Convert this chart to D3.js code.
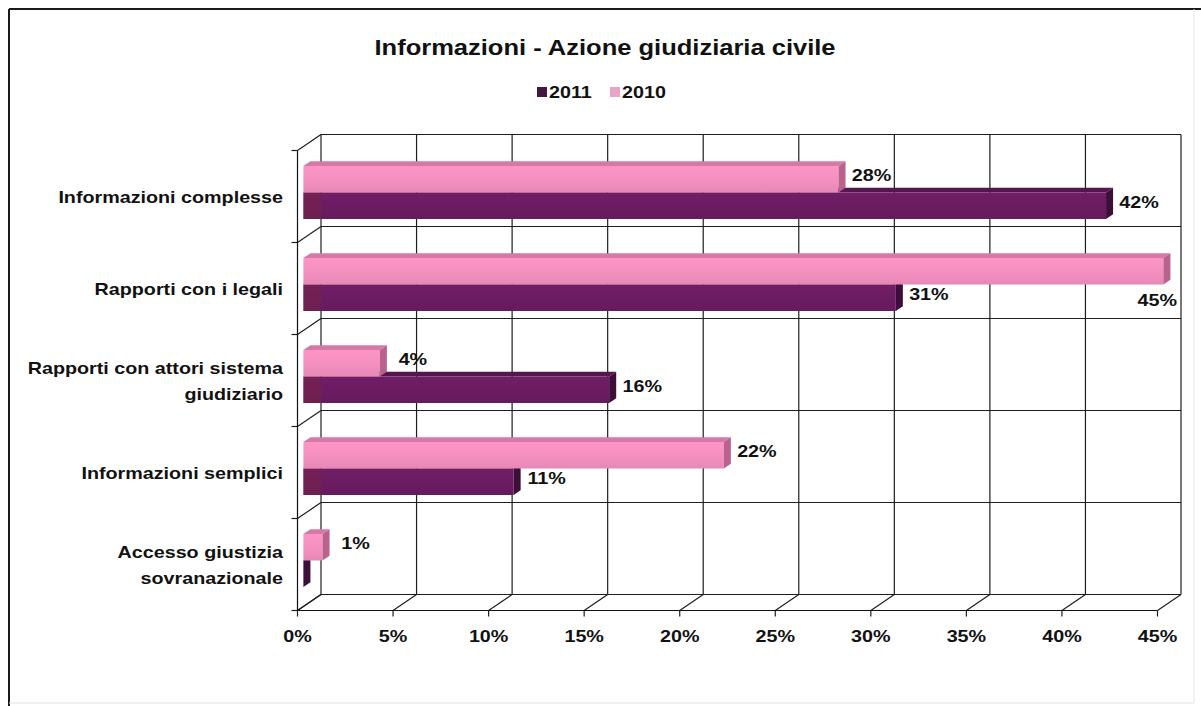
<!DOCTYPE html>
<html>
<head>
<meta charset="utf-8">
<script src="https://cdn.jsdelivr.net/npm/d3@7"></script>
<style>
  html, body { margin: 0; padding: 0; background: #fff; }
  svg { display: block; }
  text { font-family: "Liberation Sans", Arial, sans-serif; font-weight: bold; fill: #111; }
</style>
</head>
<body>
<svg id="chart" width="1201" height="706"></svg>
<script>
// ---- data ----
const title = "Informazioni - Azione giudiziaria civile";
const categories = [
  ["Informazioni complesse"],
  ["Rapporti con i legali"],
  ["Rapporti con attori sistema", "giudiziario"],
  ["Informazioni semplici"],
  ["Accesso giustizia", "sovranazionale"]
];
const seriesNames = ["2011", "2010"];
const values2011 = [0.42, 0.31, 0.16, 0.11, 0.00];
const values2010 = [0.28, 0.45, 0.04, 0.22, 0.01];
const xTicks = [0, 0.05, 0.10, 0.15, 0.20, 0.25, 0.30, 0.35, 0.40, 0.45];

// ---- layout ----
const svg = d3.select("#chart");
const SX = 1.16;               // horizontal text stretch
const fmt = d3.format(".0%");
const depth = { dx: 23.5, dy: -16 };          // projection of full depth
const barZ = [0.25, 0.55];                    // bar front/back depth fraction

const x = d3.scaleLinear().domain([0, 0.45]).range([297.5, 1157.5]);
const catKeys = categories.map((c, i) => i);
const y = d3.scaleBand().domain(catKeys).range([150.5, 610.5]);
const bw = y.bandwidth();
// 2010 sits above 2011 inside each category
const ySub = d3.scaleBand().domain(["2010", "2011"]).range([bw * 0.212, bw * 0.788]);

const colors = {
  "2011": { front: "#6b1c61", top: "#551650", end: "#3e0e3a", legend: "#45163f" },
  "2010": { front: "#f28fbf", top: "#d779a7", end: "#b8628d", legend: "#e9a3c3" }
};

function stretchedText(g, str, px, py, anchor, size) {
  return g.append("text")
    .attr("transform", `translate(${px},${py}) scale(${SX},1)`)
    .attr("text-anchor", anchor)
    .style("font-size", size + "px")
    .text(str);
}

// ---- outer frame ----
svg.append("line").attr("x1", 9).attr("x2", 1201).attr("y1", 9).attr("y2", 9)
  .attr("stroke", "#1a1a1a").attr("stroke-width", 2);
svg.append("line").attr("x1", 9).attr("x2", 9).attr("y1", 9).attr("y2", 706)
  .attr("stroke", "#1a1a1a").attr("stroke-width", 2);
svg.append("line").attr("x1", 9).attr("x2", 1194).attr("y1", 703).attr("y2", 703)
  .attr("stroke", "#e2e2e2").attr("stroke-width", 1);
svg.append("line").attr("x1", 1194).attr("x2", 1194).attr("y1", 9).attr("y2", 703)
  .attr("stroke", "#e8e8e8").attr("stroke-width", 1);

// ---- title & legend ----
stretchedText(svg, title, 605, 55, "middle", 22);

const legend = svg.append("g");
const legendX = { "2011": 537, "2010": 610 };
seriesNames.forEach(s => {
  legend.append("rect").attr("x", legendX[s]).attr("y", 87).attr("width", 10).attr("height", 10)
    .attr("fill", colors[s].legend);
  stretchedText(legend, s, legendX[s] + 12, 98, "start", 17);
});

// ---- walls & grid ----
const grid = svg.append("g").attr("stroke", "#1e1e1e").attr("stroke-width", 1.2).attr("fill", "none");
const backX = v => x(v) + depth.dx;
const yTop = y.range()[0], yBot = y.range()[1];
const boundaries = catKeys.map(k => y(k)).concat([yBot]);

// back wall vertical gridlines
xTicks.forEach(t => {
  grid.append("line").attr("x1", backX(t)).attr("x2", backX(t))
    .attr("y1", yTop + depth.dy).attr("y2", yBot + depth.dy);
});
// back wall horizontal gridlines
boundaries.forEach(b => {
  grid.append("line").attr("x1", backX(0)).attr("x2", backX(0.45))
    .attr("y1", b + depth.dy).attr("y2", b + depth.dy);
  // left wall diagonals
  grid.append("line").attr("x1", x(0)).attr("x2", backX(0))
    .attr("y1", b).attr("y2", b + depth.dy);
  // category ticks
  grid.append("line").attr("x1", x(0) - 6).attr("x2", x(0)).attr("y1", b).attr("y2", b);
});
// floor diagonals & value ticks
xTicks.forEach(t => {
  grid.append("line").attr("x1", x(t)).attr("x2", backX(t))
    .attr("y1", yBot).attr("y2", yBot + depth.dy);
  grid.append("line").attr("x1", x(t)).attr("x2", x(t)).attr("y1", yBot).attr("y2", yBot + 6);
});
// front axes
grid.append("line").attr("x1", x(0)).attr("x2", x(0)).attr("y1", yTop).attr("y2", yBot)
  .attr("stroke", "#111");
grid.append("line").attr("x1", x(0)).attr("x2", x(0.45)).attr("y1", yBot).attr("y2", yBot)
  .attr("stroke", "#111");

// ---- axis labels ----
xTicks.forEach(t => stretchedText(svg, fmt(t), x(t), 642, "middle", 17));
categories.forEach((lines, i) => {
  const cy = y(i) + bw / 2;
  const n = lines.length;
  lines.forEach((ln, j) => {
    const ly = cy + 6 + (j - (n - 1) / 2) * 26;
    stretchedText(svg, ln, 283, ly, "end", 17);
  });
});

// ---- 3D bars ----
const fdx = depth.dx * barZ[0], fdy = depth.dy * barZ[0];
const bdx = depth.dx * barZ[1], bdy = depth.dy * barZ[1];
const bars = svg.append("g");
const pts = a => a.map(p => p.join(",")).join(" ");

// gradients for the front faces
const defs = svg.append("defs");
seriesNames.forEach(s => {
  const gr = defs.append("linearGradient").attr("id", "grad" + s)
    .attr("x1", 0).attr("y1", 0).attr("x2", 0).attr("y2", 1);
  const base = d3.color(colors[s].front);
  gr.append("stop").attr("offset", "0%").attr("stop-color", base.brighter(0.12));
  gr.append("stop").attr("offset", "60%").attr("stop-color", base);
  gr.append("stop").attr("offset", "100%").attr("stop-color", base.darker(0.15));
});

function drawBar(s, i, v) {
  const c = colors[s];
  const y0 = y(i) + ySub(s), y1 = y0 + ySub.bandwidth();
  const xa = x(0), xb = x(v);
  const g = bars.append("g");
  // top face
  g.append("polygon").attr("points", pts([
    [xa + fdx, y0 + fdy], [xb + fdx, y0 + fdy], [xb + bdx, y0 + bdy], [xa + bdx, y0 + bdy]
  ])).attr("fill", c.top);
  // front face
  g.append("polygon").attr("points", pts([
    [xa + fdx, y0 + fdy], [xb + fdx, y0 + fdy], [xb + fdx, y1 + fdy], [xa + fdx, y1 + fdy]
  ])).attr("fill", `url(#grad${s})`);
  // end face
  g.append("polygon").attr("points", pts([
    [xb + fdx, y0 + fdy], [xb + bdx, y0 + bdy], [xb + bdx, y1 + bdy], [xb + fdx, y1 + fdy]
  ])).attr("fill", c.end);
  // section in front of the side wall is slightly darker
  const cut = Math.min(backX(0), xb + fdx);
  if (s === "2011" && cut > xa + fdx) {
    g.append("rect").attr("x", xa + fdx).attr("y", y0 + fdy)
      .attr("width", cut - xa - fdx).attr("height", y1 - y0)
      .attr("fill", "#7a2838").attr("opacity", 0.35);
  }
}

const seriesValues = { "2011": values2011, "2010": values2010 };
catKeys.forEach(i => {
  drawBar("2011", i, values2011[i]);
  drawBar("2010", i, values2010[i]);
});

// ---- value labels ----
const labels = svg.append("g");
const rightLimit = backX(0.45);
catKeys.forEach(i => {
  ["2010", "2011"].forEach(s => {
    const v = seriesValues[s][i];
    if (!v) return;
    const y0 = y(i) + ySub(s);
    const cy = y0 + ySub.bandwidth() / 2 + fdy;
    const lx = x(v) + bdx + 26;
    const halfW = 20;
    if (lx + halfW > rightLimit) {
      // no room past the bar end: sit below the bar, right-aligned
      stretchedText(labels, fmt(v), rightLimit - 4, y0 + ySub.bandwidth() + fdy + 21, "end", 17);
    } else {
      stretchedText(labels, fmt(v), lx, cy + 2, "middle", 17);
    }
  });
});
</script>
</body>
</html>
